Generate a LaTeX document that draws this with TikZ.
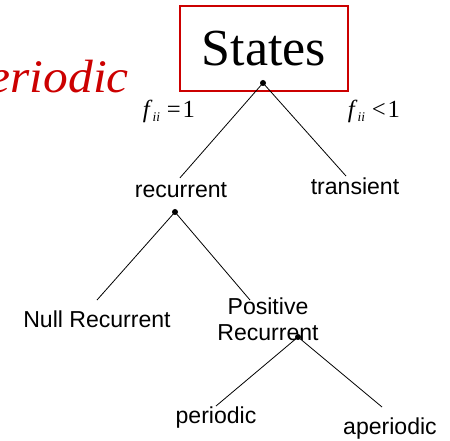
\documentclass[tikz,border=0pt]{standalone}
\usepackage{fontspec}
\setmainfont{Liberation Serif}
\setsansfont{Liberation Sans}
\usepackage{xcolor}
\usetikzlibrary{calc, positioning}
\definecolor{slidered}{RGB}{204,0,0}
\newcommand{\fii}{\textit{f}\raisebox{-3pt}{\fontsize{10}{10}\selectfont\textit{ii}}\hspace{5pt}}

\begin{document}
\begin{tikzpicture}[
    x=0.75pt, y=-0.75pt,
    lbl/.style={font=\sffamily\fontsize{17.3}{19.5}\selectfont, inner sep=0pt, align=center},
    cond/.style={font=\fontsize{18.5}{20}\selectfont, inner sep=0pt},
    dot/.style={circle, fill=black, inner sep=0pt, minimum size=4.5pt},
    branch/.style={line width=0.6pt}
]
\clip (0,0) rectangle (450,441);
% title box
\node[draw=slidered, line width=1.4pt, minimum width=126pt, minimum height=64pt,
      font=\fontsize{39}{44}\selectfont] (states) at (264,48.5) {States};
\node[anchor=base east, text=slidered, inner sep=0pt,
      font=\itshape\fontsize{35}{40}\selectfont] (title) at (129,93) {\scalebox{1.06}[1]{eriodic}};
\node[dot] (sdot) at (263,83) {};

\node[cond, anchor=base] (fone) at (169,118) {\fii=\hspace{1.5pt}1};
\node[cond, anchor=base] (fless) at (374,118) {\fii<\hspace{1.5pt}1};

\node[lbl, anchor=base] (rec) at (181,198) {recurrent};
\node[lbl, anchor=base] (trans) at (355,195) {transient};
\node[dot] (rdot) at (175,212) {};

\node[lbl, anchor=base] (null) at (97,328) {Null Recurrent};
\node[lbl, anchor=base] (pos) at (268,341) {Positive\\Recurrent};
\node[dot] (pdot) at (298,337) {};

\node[lbl, anchor=base] (per) at (216,424) {periodic};
\node[lbl, anchor=base] (aper) at (390,435) {aperiodic};

\draw[branch] (sdot.center) -- ($(rec.north)+(-1,-5)$);
\draw[branch] (sdot.center) -- ($(trans.north)+(-9,-2)$);
\draw[branch] (rdot.center) -- ($(null.north)+(0,-11)$);
\draw[branch] (rdot.center) -- ($(pos.north)+(-18,2)$);
\draw[branch] (pdot.center) -- ($(per.north)+(0,-1)$);
\draw[branch] (pdot.center) -- ($(aper.north)+(-8,-11)$);
\end{tikzpicture}
\end{document}
